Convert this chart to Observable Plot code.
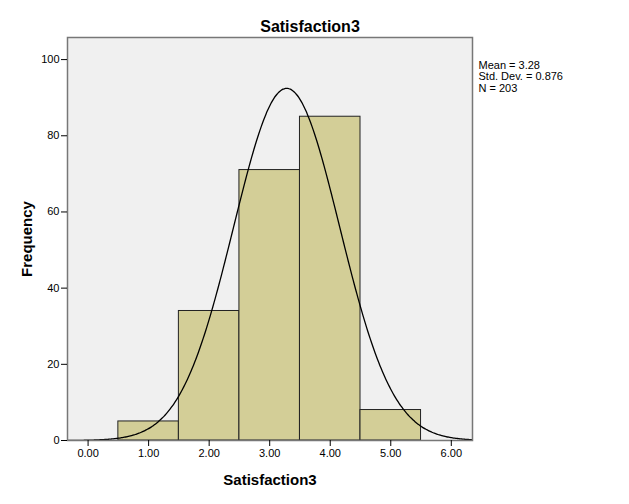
<!DOCTYPE html>
<html>
<head>
<meta charset="utf-8">
<script src="https://cdn.jsdelivr.net/npm/d3@7"></script>
<script src="https://cdn.jsdelivr.net/npm/@observablehq/plot@0.6"></script>
<style>
  html, body { margin: 0; padding: 0; background: #fff; }
  #chart svg { display: block; }
</style>
</head>
<body>
<div id="chart"></div>
<script>
// Data
const binStart = [0.5, 1.5, 2.5, 3.5, 4.5];
const binEnd = [1.5, 2.5, 3.5, 4.5, 5.5];
const counts = [5, 34, 71, 85, 8];
const xTicks = [0, 1, 2, 3, 4, 5, 6];
const yTicks = [0, 20, 40, 60, 80, 100];
const statMean = 3.28;
const statSD = 0.876;
const statN = 203;
const title = "Satisfaction3";
const xLabel = "Satisfaction3";
const yLabel = "Frequency";

const bars = binStart.map((s, i) => ({x1: s, x2: binEnd[i], y: counts[i]}));

// Fitted normal curve from the stated statistics (bin width 1)
const xDomain = [-0.34, 6.35];
const binWidth = binEnd[0] - binStart[0];
const curve = d3.range(xDomain[0], xDomain[1] + 0.001, 0.02).map(x => ({
  x,
  y: statN * binWidth * Math.exp(-0.5 * ((x - statMean) / statSD) ** 2) / (statSD * Math.sqrt(2 * Math.PI))
}));

const statsText = `Mean = ${statMean.toFixed(2)}\nStd. Dev. = ${statSD}\nN = ${statN}`;

const font = "'Liberation Sans', Arial, sans-serif";

const chart = Plot.plot({
  width: 629,
  height: 504,
  marginLeft: 67,
  marginRight: 157,
  marginTop: 37,
  marginBottom: 64,
  style: {fontFamily: font, fontSize: "11px", color: "#000", background: "#fff", overflow: "visible"},
  x: {domain: xDomain, ticks: xTicks, tickFormat: d => d.toFixed(2), tickSize: 6, tickPadding: 3, label: null},
  y: {domain: [0, 105.8], ticks: yTicks, tickSize: 6, tickPadding: 2, label: null},
  marks: [
    Plot.frame({fill: "#f0f0f0"}),
    Plot.rectY(bars, {x1: "x1", x2: "x2", y: "y", fill: "#d3ce97", stroke: "#222", strokeWidth: 1}),
    Plot.line(curve, {x: "x", y: "y", stroke: "#000", strokeWidth: 1.3, curve: "basis"}),
    Plot.frame({stroke: "#777", strokeWidth: 1.5}),
    Plot.axisX({ticks: xTicks, tickFormat: d => d.toFixed(2), tickSize: 6, tickPadding: 3, label: null, stroke: "#000", fontSize: 11}),
    Plot.axisY({ticks: yTicks, tickSize: 6, tickPadding: 2, label: null, stroke: "#000", fontSize: 11}),
    Plot.text([title], {frameAnchor: "top", dy: -6, dx: 40, text: d => d, fontSize: 16, fontWeight: "bold", lineAnchor: "bottom"}),
    Plot.text([xLabel], {frameAnchor: "bottom", dy: 40, text: d => d, fontSize: 15, fontWeight: "bold", lineAnchor: "middle"}),
    Plot.text([yLabel], {frameAnchor: "left", dx: -40, rotate: -90, textAnchor: "middle", lineAnchor: "middle", text: d => d, fontSize: 15, fontWeight: "bold"}),
    Plot.text([statsText], {frameAnchor: "top-right", dx: 6, dy: 23, textAnchor: "start", lineAnchor: "top", lineHeight: 1.05, text: d => d, fontSize: 11})
  ]
});
document.getElementById("chart").appendChild(chart);
</script>
</body>
</html>
